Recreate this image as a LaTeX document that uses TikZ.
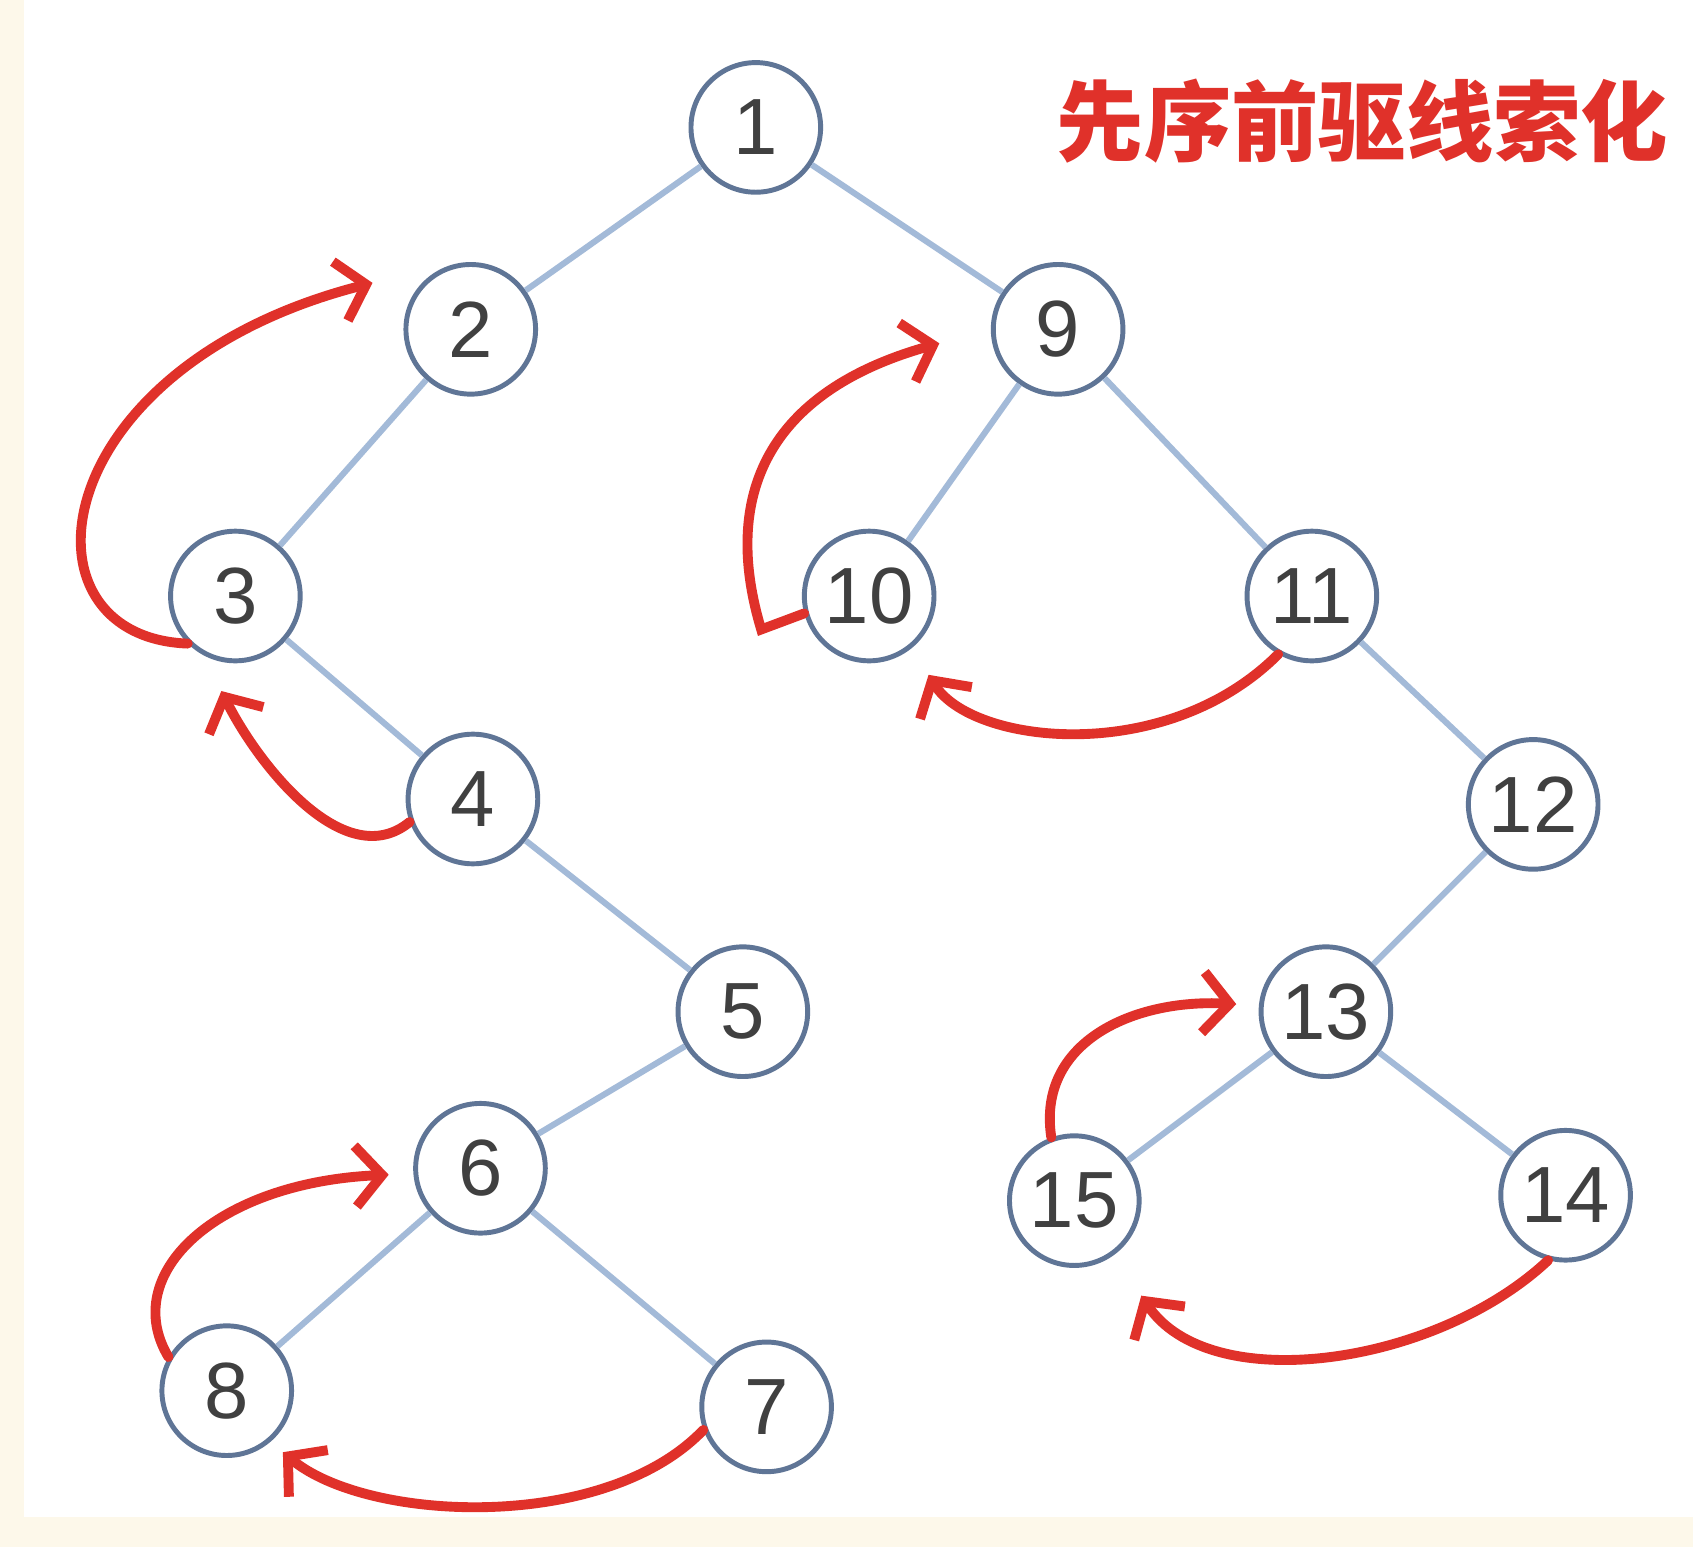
\documentclass[tikz,border=0pt]{standalone}
\usepackage{fontspec}
\setmainfont{Liberation Sans}
\newfontfamily\cjk{Noto Sans CJK SC}
\usetikzlibrary{arrows.meta}
\definecolor{cream}{HTML}{FDF8EA}
\definecolor{ring}{HTML}{5F7596}
\definecolor{edgec}{HTML}{A3BAD8}
\definecolor{red1}{HTML}{E0312A}
\begin{document}
\begin{tikzpicture}[x=0.01cm,y=-0.01cm,
  tn/.style={circle,draw=ring,line width=1.3pt,fill=white,minimum size=1.2cm,inner sep=0pt,font=\fontsize{21}{21}\selectfont,text=black!75},
  ed/.style={edgec,line width=1.6pt},
  ra/.style={red1,line width=2.6pt,line cap=round,-{Straight Barb[length=7pt,width=16pt,line width=2.6pt]}}]
\fill[cream] (0,0) rectangle (1568,1433);
\fill[white] (22,0) rectangle (1568,1405);
\useasboundingbox (0,0) rectangle (1568,1433);
\node[tn] (n1) at (700,118) {1};
\node[tn] (n2) at (436,305) {2};
\node[tn] (n9) at (980,305) {9};
\node[tn] (n3) at (218,552) {3};
\node[tn] (n10) at (805,552) {10};
\node[tn] (n11) at (1215,552) {11};
\node[tn] (n4) at (438,740) {4};
\node[tn] (n12) at (1420,745) {12};
\node[tn] (n5) at (688,937) {5};
\node[tn] (n13) at (1228,937) {13};
\node[tn] (n6) at (445,1082) {6};
\node[tn] (n15) at (995,1112) {15};
\node[tn] (n14) at (1450,1107) {14};
\node[tn] (n8) at (210,1288) {8};
\node[tn] (n7) at (710,1303) {7};
\begin{scope}[on background layer/.style={}]
\end{scope}
\foreach \a/\b in {n1/n2,n1/n9,n2/n3,n9/n10,n9/n11,n3/n4,n11/n12,n4/n5,n12/n13,n5/n6,n13/n15,n13/n14,n6/n8,n6/n7}
  \draw[ed] (\a) -- (\b);
\node[font=\cjk\bfseries\fontsize{23}{23}\selectfont,text=red1] (title) at (1262,112) {先序前驱线索化};
\coordinate (a1) at (345,262);
\draw[ra] (n3.225) .. controls (10,590) and (40,340) .. (a1);
\coordinate (a2) at (205,640);
\draw[ra] (n4.200) .. controls (320,810) and (240,710) .. (a2);
\coordinate (a3) at (870,318);
\draw[ra] (n10.195) -- (705,583) .. controls (665,450) and (720,360) .. (a3);
\coordinate (a4) at (860,625);
\draw[ra] (n11.240) .. controls (1080,710) and (900,690) .. (a4);
\coordinate (a5) at (1145,930);
\draw[ra] (n15.110) .. controls (960,965) and (1050,925) .. (a5);
\coordinate (a6) at (1057,1200);
\draw[ra] (n14.255) .. controls (1330,1265) and (1120,1295) .. (a6);
\coordinate (a7) at (360,1088);
\draw[ra] (n8.150) .. controls (110,1180) and (200,1095) .. (a7);
\coordinate (a8) at (262,1345);
\draw[ra] (n7.200) .. controls (560,1420) and (340,1410) .. (a8);
\end{tikzpicture}
\end{document}
